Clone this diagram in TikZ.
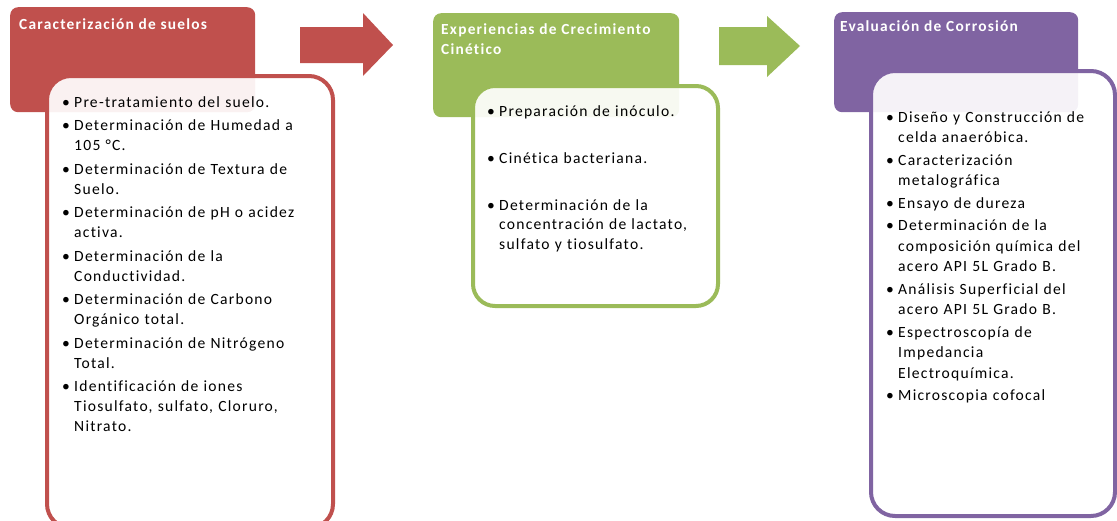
\documentclass[tikz,border=0pt]{standalone}
\usepackage{fontspec}
\setmainfont{Carlito}[LetterSpace=8, Ligatures={NoCommon}]
\definecolor{stagered}{HTML}{C0504D}
\definecolor{stagegreen}{HTML}{9BBB59}
\definecolor{stagepurple}{HTML}{8064A2}
\newlength\bulletgap
\setlength\bulletgap{12pt}
% one bullet item with hanging indent; \newline keeps the indent
\newcommand\itm[1]{\noindent\hangindent=\bulletgap\hangafter=1\makebox[\bulletgap][l]{\textbullet}#1\par}
\newcommand\listsetup[1]{\setlength\parskip{#1}}
\tikzset{
  headbox/.style={rounded corners=8pt, minimum width=#1, anchor=north west, inner sep=0pt},
  stagehead/.style={fill=#1, draw=none},
  panel/.style={draw=#1, line width=4pt, fill=white, fill opacity=0.92, rounded corners=24pt, anchor=north west, inner sep=0pt},
  title/.style={text=white, font=\fontsize{15.4}{20}\selectfont\bfseries, align=left, anchor=base west, inner sep=0pt},
  listtxt/.style={text=black, text width=300pt, align=left, anchor=base west, inner sep=0pt, font=\fontsize{15.6}{#1}\selectfont},
  flow/.style={fill=#1, draw=none}
}
\begin{document}
\begin{tikzpicture}[x=1pt, y=-1pt]
\useasboundingbox (0,0) rectangle (1117,520);
\clip (0,0) rectangle (1117,520);

% stage headers
\node[stagehead=stagered, headbox=245pt, minimum height=105pt] (h1) at (10,7) {};
\node[stagehead=stagegreen, headbox=246pt, minimum height=104pt] (h2) at (433,13) {};
\node[stagehead=stagepurple, headbox=244pt, minimum height=100pt] (h3) at (834,12) {};

\node[title] (t1) at (19,29) {Caracterización de suelos};
\node[title] (t2) at (441,54) {Experiencias de Crecimiento\\Cinético};
\node[title] (t3) at (840,31) {Evaluación de Corrosión};

% block arrows between the stages
\coordinate (a1) at (300,27);
\fill[flow=stagered] (a1) -- (363,27) -- (363,13) -- (393,45) -- (363,76) -- (363,63) -- (300,63) -- cycle;
\coordinate (a2) at (719,27);
\fill[flow=stagegreen] (a2) -- (767,27) -- (767,16) -- (800,46) -- (767,77) -- (767,65) -- (719,65) -- cycle;

% content panels
\node[panel=stagered, minimum width=286pt, minimum height=452pt] (p1) at (45,74) {};
\node[panel=stagegreen, minimum width=245pt, minimum height=220pt, rounded corners=22pt] (p2) at (471,84) {};
\node[panel=stagepurple, minimum width=244pt, minimum height=445pt] (p3) at (869,69) {};

\node[listtxt=20pt] (l1) at (62,107) {\listsetup{3.5pt}%
\itm{Pre-tratamiento del suelo.}
\itm{Determinación de Humedad a\newline 105 °C.}
\itm{Determinación de Textura de\newline Suelo.}
\itm{Determinación de pH o acidez\newline activa.}
\itm{Determinación de la\newline Conductividad.}
\itm{Determinación de Carbono\newline Orgánico total.}
\itm{Determinación de Nitrógeno\newline Total.}
\itm{Identificación de iones\newline Tiosulfato, sulfato, Cloruro,\newline Nitrato.}};

\node[listtxt=19.5pt] (l2) at (487,116) {\listsetup{27.5pt}%
\itm{Preparación de inóculo.}
\itm{Cinética bacteriana.}
\itm{Determinación de la\newline concentración de lactato,\newline sulfato y tiosulfato.}};

\node[listtxt=20.5pt] (l3) at (886,122) {\listsetup{2pt}%
\itm{Diseño y Construcción de\newline celda anaeróbica.}
\itm{Caracterización\newline metalográfica}
\itm{Ensayo de dureza}
\itm{Determinación de la\newline composición química del\newline acero API 5L Grado B.}
\itm{Análisis Superficial del\newline acero API 5L Grado B.}
\itm{Espectroscopía de\newline Impedancia\newline Electroquímica.}
\itm{Microscopia cofocal}};
\end{tikzpicture}
\end{document}
